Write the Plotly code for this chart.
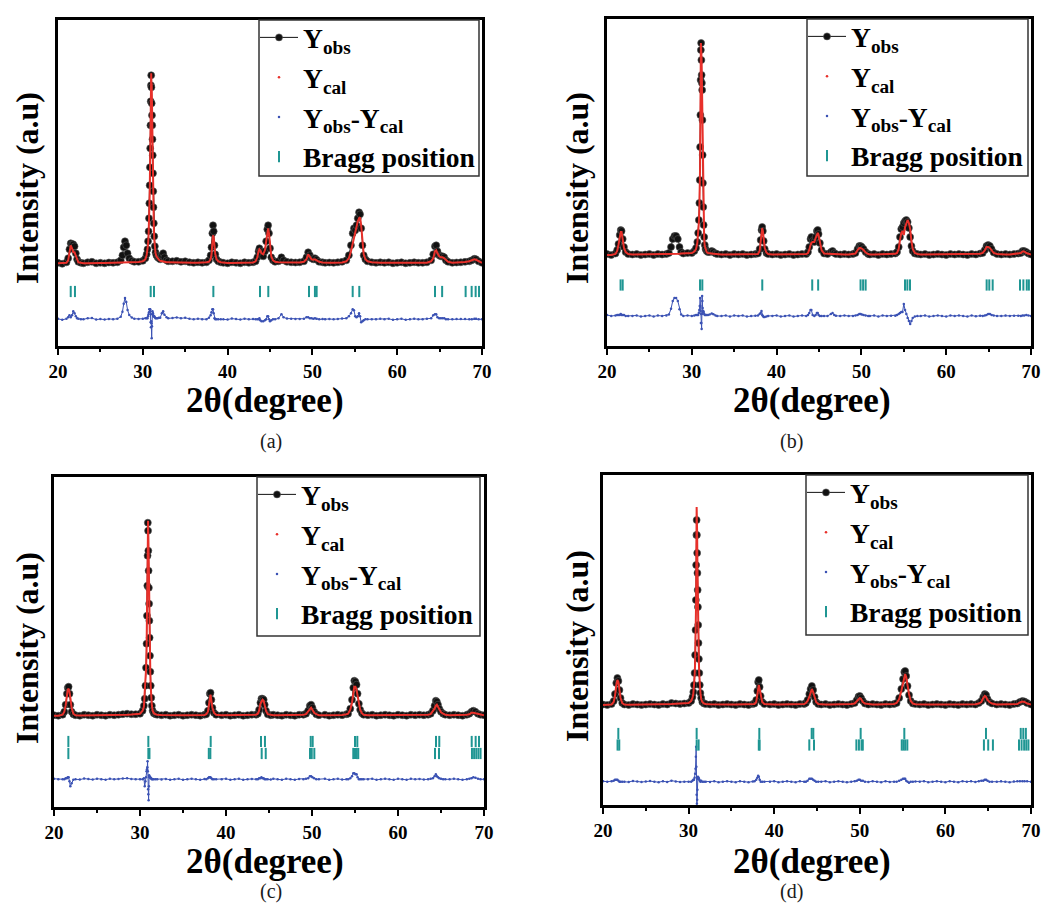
import plotly.graph_objects as go

# ---------------------------------------------------------------------------
# Rietveld refinement patterns, 2theta in degrees, intensity in arbitrary units
# ---------------------------------------------------------------------------

# ---- sample (a) ----
tt_a = [20.0, 20.5, 21.0, 21.2, 21.35, 21.5, 21.65, 21.8, 21.95, 22.1, 22.25, 22.4, 22.7,
        23.0, 23.5, 24.0, 24.5, 25.0, 25.5, 26.0, 26.5, 27.0, 27.4, 27.6, 27.75, 27.9, 28.05,
        28.2, 28.4, 28.7, 29.0, 29.5, 30.0, 30.3, 30.45, 30.55, 30.62, 30.68, 30.73, 30.77,
        30.81, 30.84, 30.87, 30.9, 30.93, 30.96, 30.99, 31.02, 31.05, 31.08, 31.11, 31.14,
        31.17, 31.2, 31.23, 31.26, 31.3, 31.35, 31.42, 31.5, 31.6, 31.75, 31.9, 32.05, 32.25,
        32.4, 32.55, 32.8, 33.0, 33.5, 34.0, 34.5, 35.0, 35.5, 36.0, 36.5, 37.0, 37.5, 37.8,
        38.0, 38.1, 38.2, 38.28, 38.36, 38.45, 38.55, 38.7, 38.9, 39.2, 39.5, 40.0, 40.5,
        41.0, 41.5, 42.0, 42.5, 43.0, 43.3, 43.5, 43.65, 43.75, 43.85, 44.0, 44.2, 44.4,
        44.55, 44.68, 44.78, 44.88, 45.0, 45.15, 45.35, 45.6, 46.0, 46.35, 46.6, 47.0, 47.5,
        48.0, 48.5, 49.0, 49.3, 49.5, 49.7, 49.9, 50.1, 50.3, 50.5, 50.8, 51.2, 51.5, 52.0,
        52.5, 53.0, 53.5, 54.0, 54.3, 54.55, 54.75, 54.9, 55.05, 55.2, 55.35, 55.5, 55.62,
        55.75, 55.9, 56.05, 56.25, 56.5, 57.0, 57.5, 58.0, 58.5, 59.0, 59.5, 60.0, 60.5,
        61.0, 61.5, 62.0, 62.5, 63.0, 63.5, 64.0, 64.25, 64.45, 64.6, 64.75, 64.95, 65.15,
        65.35, 65.55, 65.75, 66.0, 66.5, 67.0, 67.5, 68.0, 68.5, 68.8, 69.1, 69.3, 69.6, 70.0]
obs_a = [20.5, 19.5, 21, 25, 34, 40, 39, 39, 37, 30, 24, 21.5, 20.5,
         20, 21, 21.5, 20, 20.5, 20, 20.8, 20.5, 21, 23, 28, 36, 42, 38,
         30, 25, 22.5, 21.5, 21.5, 22.5, 25, 29, 34, 42, 52, 65, 80,
         98, 116, 135, 158, 182, 198, 208, 196, 180, 168, 158, 144,
         128, 110, 92, 76, 60, 47, 37, 31, 28, 26, 25, 24, 28,
         30, 26, 23, 22, 22, 22.5, 21.5, 22, 21, 20.5, 21, 20.5, 21, 23,
         28, 36, 50, 58, 52, 38, 29, 24, 22, 21, 20.5, 20, 21,
         20.5, 20, 21, 20.5, 21, 22, 26, 32, 35, 32, 28, 27, 32,
         42, 54, 58, 50, 35, 26, 23, 21.5, 22, 26, 23, 21.5, 21,
         20.8, 21, 22, 26, 31, 28, 25, 24, 25, 23.5, 21.5, 21, 20.5, 20.8,
         20.5, 21, 21.5, 23, 28, 38, 50, 55, 53, 58, 65, 71, 69,
         55, 38, 28, 24, 22, 21, 20.5, 21, 20.5, 21, 20, 20.5, 21,
         20, 20.5, 21, 20.5, 20.5, 21, 23, 29, 37, 38, 32, 28, 27,
         27, 26, 23, 21.5, 20.5, 20.8, 21, 21.5, 22, 23, 24.5, 24, 22, 20.5]
cal_a = [20, 20, 20.5, 23, 30, 38, 35, 31, 31, 27, 23, 21, 20.5,
         20, 20, 20.3, 20.3, 20.3, 20.3, 20.4, 20.4, 20.5, 20.5, 20.5, 20.5, 20.6, 20.6,
         20.6, 20.7, 20.8, 21, 21.2, 22, 24, 28, 33, 39, 47, 58, 70,
         88, 106, 125, 150, 185, 206, 210, 200, 199, 175, 153, 136,
         122, 104, 88, 73, 57, 44, 35, 30, 27, 25, 23.5, 22.5, 22,
         22, 21.5, 21, 21, 20.8, 20.6, 20.5, 20.5, 20.5, 20.5, 20.5, 20.5, 21, 21.5,
         24, 29, 40, 48, 46, 37, 29, 24, 22, 21, 20.5, 20.3, 20.3,
         20.3, 20.3, 20.4, 20.5, 20.8, 22, 26, 32, 34, 33, 30, 29, 33,
         42, 51, 55, 50, 37, 27, 23, 21.5, 21, 21, 21, 20.8, 20.5,
         20.5, 20.8, 21.5, 24, 29, 27, 24, 23.5, 24, 23, 21.5, 20.8, 20.5, 20.5,
         20.5, 20.6, 20.8, 22, 25, 32, 40, 46, 50, 56, 62, 65, 66,
         58, 40, 29, 24, 22, 21, 20.5, 20.5, 20.5, 20.5, 20.5, 20.5, 20.5,
         20.5, 20.5, 20.5, 20.5, 20.5, 20.5, 22, 25, 32, 33, 30, 27, 26,
         26, 25, 23, 21.5, 20.5, 20.5, 20.8, 21.2, 22, 23, 24, 23.5, 22, 20.5]
bragg_a = [21.5, 22.0, 30.93, 31.32, 38.32, 43.82, 44.8, 49.6, 50.3, 50.5, 54.75, 55.53,
           64.46, 65.3, 68.07, 68.78, 69.25, 69.65]

# ---- sample (b) ----
tt_b = [20.0, 20.5, 21.0, 21.2, 21.35, 21.5, 21.62, 21.72, 21.85, 22.0, 22.2, 22.5, 23.0,
        23.5, 24.0, 24.5, 25.0, 25.5, 26.0, 26.5, 27.0, 27.3, 27.55, 27.75, 27.95, 28.15,
        28.35, 28.55, 28.75, 29.0, 29.5, 30.0, 30.3, 30.5, 30.65, 30.75, 30.83, 30.89, 30.94,
        30.98, 31.01, 31.04, 31.07, 31.1, 31.13, 31.16, 31.19, 31.22, 31.25, 31.28, 31.31,
        31.35, 31.4, 31.46, 31.53, 31.62, 31.75, 31.9, 32.1, 32.35, 32.55, 32.8, 33.0, 33.5,
        34.0, 34.5, 35.0, 35.5, 36.0, 36.5, 37.0, 37.5, 37.8, 38.0, 38.12, 38.22, 38.3, 38.38,
        38.48, 38.6, 38.8, 39.0, 39.5, 40.0, 40.5, 41.0, 41.5, 42.0, 42.5, 43.0, 43.5, 43.7,
        43.85, 44.0, 44.1, 44.25, 44.45, 44.6, 44.75, 44.85, 44.95, 45.1, 45.3, 45.6, 46.0,
        46.4, 46.6, 46.8, 47.0, 47.5, 48.0, 48.5, 49.0, 49.3, 49.55, 49.75, 49.9, 50.05, 50.25,
        50.5, 50.8, 51.0, 51.5, 52.0, 52.5, 53.0, 53.5, 54.0, 54.2, 54.4, 54.55, 54.7, 54.85,
        55.0, 55.15, 55.3, 55.45, 55.6, 55.75, 55.9, 56.05, 56.3, 56.6, 57.0, 57.5, 58.0,
        58.5, 59.0, 59.5, 60.0, 60.5, 61.0, 61.5, 62.0, 62.5, 63.0, 63.5, 64.0, 64.3, 64.55,
        64.75, 64.95, 65.15, 65.35, 65.6, 66.0, 66.5, 67.0, 67.5, 68.0, 68.5, 68.8, 69.0,
        69.2, 69.45, 69.7, 70.0]
obs_b = [21, 20, 21.5, 25, 31, 40, 45, 44, 36, 28, 23, 21, 20.5,
         21, 20, 20.5, 21, 20, 21, 20.5, 21, 22, 28, 36, 39, 39,
         36, 28, 23, 21.5, 22, 22, 24, 27, 33, 42, 55, 72, 95,
         128, 160, 195, 225, 232, 215, 200, 192, 185, 155, 120, 92,
         68, 50, 38, 30, 26, 24, 23, 23, 24, 23, 21.5, 21, 20.5,
         21, 20, 21, 20.5, 21, 20, 20.5, 21, 21.5, 26, 35, 45, 48, 44,
         34, 26, 22, 21, 20.5, 21, 20, 20.5, 21, 20, 20.5, 21, 21, 23,
         28, 36, 38, 34, 33, 38, 44, 45, 41, 32, 25, 21.5, 21,
         23, 24, 22, 21, 20.5, 21, 20.5, 21, 22, 26, 29, 29, 28, 26,
         23, 21, 20.5, 21, 20, 21, 20.5, 21, 21.5, 23, 28, 38, 46, 48,
         52, 54, 55, 53, 47, 38, 29, 24, 21.5, 21, 20.5, 21, 20,
         20.5, 21, 20.5, 20, 21, 20.5, 21, 20.5, 20, 21, 20.5, 21.5, 22, 25,
         29, 30, 29, 26, 22.5, 21, 20.5, 21, 20.5, 21, 21.5, 22, 24,
         24, 23, 21.5, 20.5]
cal_b = [20, 20, 21, 24, 30, 39, 43, 43, 35, 27, 23, 21, 20.5,
         20.5, 20.5, 20.5, 20.5, 20.5, 20.5, 20.5, 20.5, 20.5, 20.8, 21, 21, 21,
         21, 21.2, 21.5, 21.5, 21.5, 22, 23.5, 26, 32, 41, 52, 66, 85,
         110, 150, 190, 232, 230, 222, 213, 190, 165, 140, 112, 88,
         63, 46, 36, 29, 25, 23, 22, 21.5, 21.5, 21.3, 21, 21, 20.5,
         20.5, 20.5, 20.5, 20.5, 20.5, 20.5, 20.5, 20.8, 21, 24, 32, 40, 47, 44,
         35, 27, 22.5, 21, 20.5, 20.5, 20.5, 20.5, 20.5, 20.5, 20.5, 20.5, 21, 22,
         25, 30, 32, 33, 33, 37, 41, 42, 40, 32, 25, 21.5, 21,
         21, 21, 21, 20.8, 20.5, 20.5, 20.5, 21, 21.5, 25, 27, 27, 26.5, 25,
         22.5, 21, 20.5, 20.5, 20.5, 20.5, 20.5, 20.8, 21.2, 22, 26, 35, 42, 44,
         40, 48, 53, 55, 52, 46, 34, 26, 22, 21, 20.5, 20.5, 20.5,
         20.5, 20.5, 20.5, 20.5, 20.5, 20.5, 20.5, 20.5, 20.5, 20.5, 20.8, 21.2, 22, 24.5,
         28, 28, 27, 25, 22, 21, 20.5, 20.5, 20.5, 20.8, 21.2, 22, 23.5,
         23.5, 22, 21, 20.5]
bragg_b = [21.6, 21.85, 30.97, 31.24, 38.31, 44.2, 44.9, 49.9, 50.2, 50.5, 55.14, 55.42,
           55.73, 64.77, 65.08, 65.48, 68.7, 69.1, 69.5, 69.75]

# ---- sample (c) ----
tt_c = [20.0, 20.5, 21.0, 21.2, 21.35, 21.5, 21.6, 21.7, 21.8, 21.9, 22.05, 22.25, 22.5,
        23.0, 23.5, 24.0, 24.5, 25.0, 25.5, 26.0, 26.5, 27.0, 27.5, 28.0, 28.5, 29.0, 29.5,
        30.0, 30.3, 30.45, 30.55, 30.63, 30.7, 30.76, 30.81, 30.85, 30.88, 30.91, 30.94,
        30.97, 31.0, 31.03, 31.06, 31.09, 31.12, 31.16, 31.2, 31.25, 31.31, 31.38, 31.47,
        31.6, 31.8, 32.0, 32.5, 33.0, 33.5, 34.0, 34.5, 35.0, 35.5, 36.0, 36.5, 37.0, 37.5,
        37.7, 37.9, 38.02, 38.12, 38.2, 38.3, 38.42, 38.6, 38.85, 39.5, 40.0, 40.5, 41.0,
        41.5, 42.0, 42.5, 43.0, 43.5, 43.7, 43.85, 44.0, 44.12, 44.25, 44.38, 44.5, 44.65,
        44.85, 45.2, 45.5, 46.0, 46.5, 47.0, 47.5, 48.0, 48.5, 49.0, 49.3, 49.55, 49.75,
        49.9, 50.05, 50.25, 50.5, 50.8, 51.5, 52.0, 52.5, 53.0, 53.5, 54.0, 54.2, 54.45,
        54.65, 54.8, 54.92, 55.05, 55.18, 55.3, 55.45, 55.6, 55.8, 56.0, 56.5, 57.0, 57.5,
        58.0, 58.5, 59.0, 59.5, 60.0, 60.5, 61.0, 61.5, 62.0, 62.5, 63.0, 63.5, 63.8, 64.05,
        64.25, 64.4, 64.52, 64.65, 64.8, 65.0, 65.25, 65.5, 66.0, 66.5, 67.0, 67.5, 68.0,
        68.3, 68.55, 68.76, 69.0, 69.3, 69.6, 70.0]
obs_c = [20.5, 20, 21, 24, 31, 42, 48, 49, 42, 31, 24, 21.5, 20.5,
         20, 21, 20.5, 20, 21, 20.5, 20, 21, 20.5, 21, 21.5, 22, 21.5, 21.5,
         22, 25, 30, 37, 50, 68, 92, 120, 150, 180, 213, 205,
         185, 165, 148, 132, 115, 98, 80, 64, 50, 38, 30, 25,
         22.5, 21.5, 21, 20.5, 21, 20, 20.5, 21, 20, 20.5, 21, 20.5, 20, 21,
         21.5, 25, 33, 42, 43, 36, 28, 23, 21, 20.5, 21, 20, 20.5,
         21, 20, 20.5, 21, 21, 22, 26, 33, 37, 37, 36, 31, 25,
         21.5, 20.5, 21, 20.5, 20, 21, 20.5, 20, 21, 21, 22, 25, 30,
         31, 28, 24, 21.5, 20.5, 21, 20, 20.5, 21, 20.5, 21.5, 22, 27,
         36, 48, 55, 54, 51, 42, 32, 26, 22.5, 21, 20.5, 21, 20,
         20.5, 21, 20.5, 20, 21, 20.5, 20, 21, 20.5, 21, 20.5, 21, 22, 25,
         30, 35, 34, 31, 27, 24, 22, 21, 20.5, 21, 20.5, 20, 21,
         22, 24, 25, 24, 22, 21, 20.5]
cal_c = [20, 20, 21, 24, 30, 41, 46, 47, 44, 38, 28, 22, 20.5,
         20.3, 20.3, 20.3, 20.3, 20.4, 20.4, 20.4, 20.5, 20.5, 20.6, 20.8, 21, 21.2, 21.5,
         22, 25, 29, 44, 52, 66, 84, 110, 138, 162, 205, 215,
         200, 186, 155, 128, 112, 96, 78, 62, 49, 37, 30, 25,
         22.5, 21.5, 21, 20.8, 20.6, 20.5, 20.5, 20.5, 20.5, 20.5, 20.5, 20.5, 20.5, 20.8,
         21.5, 24, 31, 40, 41, 35, 28, 23, 21, 20.5, 20.5, 20.5, 20.5,
         20.5, 20.5, 20.5, 20.6, 21, 22, 25, 32, 35, 36, 35, 31, 25,
         21.5, 20.8, 20.5, 20.5, 20.5, 20.5, 20.5, 20.5, 20.6, 21, 21.5, 24, 27,
         28, 26, 23, 21.5, 20.5, 20.5, 20.5, 20.5, 20.5, 20.8, 21.5, 22, 26,
         33, 42, 49, 49, 46, 40, 32, 26, 22.5, 21, 20.5, 20.5, 20.5,
         20.5, 20.5, 20.5, 20.5, 20.5, 20.5, 20.5, 20.5, 20.5, 20.6, 20.7, 21, 21.5, 24,
         27, 30, 31, 29, 26, 23.5, 22, 21, 20.5, 20.5, 20.5, 20.5, 21,
         21.5, 23, 23, 22.5, 21.5, 21, 20.5]
bragg_c1 = [21.67, 30.97, 38.22, 44.07, 44.53, 49.85, 50.08, 55.0, 55.27, 64.42, 64.8,
            68.57, 69.03, 69.42]
bragg_c2 = [21.67, 30.97, 31.1, 38.0, 38.18, 44.15, 44.62, 49.77, 49.97, 50.27, 54.8, 55.0,
            55.2, 55.38, 64.3, 64.77, 68.6, 68.85, 69.1, 69.35, 69.6]

# ---- sample (d) ----
tt_d = [20.0, 20.5, 21.0, 21.25, 21.4, 21.55, 21.68, 21.8, 21.92, 22.05, 22.25, 22.5,
        23.0, 23.5, 24.0, 24.5, 25.0, 25.5, 26.0, 26.5, 27.0, 27.5, 28.0, 28.5, 29.0, 29.5,
        30.0, 30.3, 30.45, 30.55, 30.63, 30.7, 30.76, 30.81, 30.85, 30.88, 30.91, 30.94,
        30.97, 31.0, 31.03, 31.06, 31.09, 31.12, 31.16, 31.2, 31.25, 31.31, 31.38, 31.47,
        31.6, 31.8, 32.0, 32.5, 33.0, 33.5, 34.0, 34.5, 35.0, 35.5, 36.0, 36.5, 37.0, 37.5,
        37.7, 37.9, 38.03, 38.12, 38.2, 38.3, 38.42, 38.6, 38.85, 39.5, 40.0, 40.5, 41.0,
        41.5, 42.0, 42.5, 43.0, 43.5, 43.7, 43.9, 44.1, 44.25, 44.4, 44.55, 44.72, 44.9,
        45.15, 45.5, 46.0, 46.5, 47.0, 47.5, 48.0, 48.5, 49.0, 49.4, 49.65, 49.85, 50.0,
        50.15, 50.35, 50.6, 51.0, 51.5, 52.0, 52.5, 53.0, 53.5, 54.0, 54.3, 54.6, 54.85,
        55.05, 55.2, 55.3, 55.42, 55.58, 55.75, 55.95, 56.2, 56.5, 57.0, 57.5, 58.0, 58.5,
        59.0, 59.5, 60.0, 60.5, 61.0, 61.5, 62.0, 62.5, 63.0, 63.5, 63.9, 64.2, 64.42, 64.6,
        64.75, 64.92, 65.15, 65.45, 66.0, 66.5, 67.0, 67.5, 68.0, 68.4, 68.7, 69.0, 69.25,
        69.55, 70.0]
obs_d = [20.5, 20, 21, 24, 31, 42, 47, 44, 35, 27, 22, 20.5,
         20, 21, 20.5, 20, 20.5, 21, 20.5, 20, 21, 20.5, 22, 21.5, 21, 21.5,
         22, 24, 28, 33, 40, 52, 70, 95, 125, 160, 190, 205,
         190, 172, 152, 135, 118, 100, 82, 66, 52, 40, 32, 27,
         23, 21.5, 21, 20.5, 21, 20, 20.5, 21, 20.5, 20, 21, 20.5, 20, 21,
         21.5, 25, 34, 43, 45, 38, 29, 23, 21, 20.5, 21, 20, 20.5,
         21, 20.5, 20, 21, 21, 22, 25, 31, 36, 39, 35, 28, 23,
         21, 20.5, 21, 20, 20.5, 21, 20.5, 20, 21, 22, 25, 28.5, 29,
         27, 24, 21.5, 20.5, 21, 20.5, 20, 21, 20.5, 21, 22, 27, 36,
         46, 53, 54, 49, 39, 30, 24, 21.5, 21, 20.5, 21, 20, 20.5,
         21, 20.5, 20, 21, 20.5, 20, 21, 20.5, 21, 20.5, 22, 24, 28, 31,
         30, 26, 23, 21.5, 20.5, 21, 20.5, 20, 21, 21.5, 23, 24, 23.5,
         22, 20.5]
cal_d = [20, 20, 20.5, 23, 29, 40, 45, 43, 35, 27, 22, 20.5,
         20.3, 20.3, 20.3, 20.3, 20.4, 20.4, 20.5, 20.5, 20.6, 20.7, 21, 21.2, 21.3, 21.5,
         22, 24, 27, 31, 38, 48, 62, 82, 100, 125, 175, 218,
         212, 190, 160, 132, 113, 96, 78, 63, 50, 39, 32, 26,
         23, 21.5, 21, 20.8, 20.6, 20.5, 20.5, 20.5, 20.5, 20.5, 20.5, 20.5, 20.5, 20.8,
         21, 23, 30, 37, 40, 36, 29, 23, 21, 20.5, 20.5, 20.5, 20.5,
         20.5, 20.5, 20.5, 20.6, 21, 22, 24, 28, 33, 36, 33, 27, 23,
         21, 20.5, 20.5, 20.5, 20.5, 20.5, 20.5, 20.6, 21, 21.5, 24, 26.5, 27,
         26, 23, 21.5, 20.8, 20.5, 20.5, 20.5, 20.5, 20.7, 21, 22, 26, 34,
         43, 50, 51, 48, 39, 31, 24, 21.5, 20.8, 20.5, 20.5, 20.5, 20.5,
         20.5, 20.5, 20.5, 20.5, 20.5, 20.5, 20.5, 20.5, 20.6, 20.8, 21.5, 23, 27, 29,
         28, 25, 23, 21.5, 20.5, 20.5, 20.5, 20.5, 20.8, 21, 22.5, 23.5, 23,
         21.5, 20.5]
bragg_d1 = [21.79, 30.94, 38.26, 44.38, 44.57, 50.1, 55.2, 64.74, 68.8, 69.1, 69.4]
bragg_d2 = [21.7, 21.9, 30.94, 31.17, 38.2, 38.3, 44.1, 44.65, 49.6, 49.9, 50.2, 50.35,
            54.9, 55.1, 55.3, 55.55, 64.5, 65.0, 65.55, 68.6, 68.9, 69.2, 69.45, 69.7]

x_ticks = [20, 30, 40, 50, 60, 70]
captions = ["(a)", "(b)", "(c)", "(d)"]
x_title = "2θ(degree)"
y_title = "Intensity (a.u)"

# ---------------------------------------------------------------------------
# page layout (pixel geometry of the 2 x 2 panel grid) and styling
# ---------------------------------------------------------------------------
W, H = 1041, 918
SERIF = "Liberation Serif"
C_OBS, C_CAL, C_DIFF, C_BRAGG = "#111111", "#e8302a", "#3b52b4", "#1f9693"

panels = [
    dict(tt=tt_a, obs=obs_a, cal=cal_a, bragg=[bragg_a], frame=(58, 20, 482, 346),
         yr=(-62.7, 263.3), diff_at=-36, bragg_at=[-8.2], cap=(258, 441),
         xt=(265, 400), yt=(27, 188), box=(259, 479, 176)),
    dict(tt=tt_b, obs=obs_b, cal=cal_b, bragg=[bragg_b], frame=(607, 19, 1031, 346),
         yr=(-71, 256), diff_at=-41, bragg_at=[-10], cap=(805, 441),
         xt=(812, 400), yt=(577, 188), box=(807, 1028, 176)),
    dict(tt=tt_c, obs=obs_c, cal=cal_c, bragg=[bragg_c1, bragg_c2], frame=(54, 477, 484, 807),
         yr=(-71.3, 258.7), diff_at=-43.6, bragg_at=[-5.8, -17.8], cap=(258, 905),
         xt=(265, 861), yt=(27, 648), box=(257, 480, 636)),
    dict(tt=tt_d, obs=obs_d, cal=cal_d, bragg=[bragg_d1, bragg_d2], frame=(603, 475, 1031, 805),
         yr=(-80, 250), diff_at=-56.7, bragg_at=[-8.5, -20], cap=(805, 905),
         xt=(812, 861), yt=(577, 646), box=(806, 1028, 635)),
]

fig = go.Figure()
layout = dict(width=W, height=H, margin=dict(l=0, r=0, t=0, b=0, autoexpand=False),
              paper_bgcolor="white", plot_bgcolor="white", showlegend=True,
              annotations=[], shapes=[])


def px(x, y):
    """pixel position on the page -> paper coordinates"""
    return x / W, 1 - y / H


for i, p in enumerate(panels, start=1):
    n = "" if i == 1 else str(i)
    xa, ya, lg = "x" + n, "y" + n, "legend" + n
    for name in ("tt", "obs", "cal"):
        if len(p[name]) != len(p["tt"]):
            raise ValueError(f"panel {i}: {name} length mismatch")

    diff = [o - c + p["diff_at"] for o, c in zip(p["obs"], p["cal"])]
    common = dict(xaxis=xa, yaxis=ya, legend=lg)

    # difference curve
    fig.add_trace(go.Scatter(x=p["tt"], y=diff, mode="lines+markers",
                             line=dict(color=C_DIFF, width=1),
                             marker=dict(color=C_DIFF, size=2.5),
                             showlegend=False, **common))
    # Bragg reflections (one row per phase)
    for k, (pos, yrow) in enumerate(zip(p["bragg"], p["bragg_at"])):
        fig.add_trace(go.Scatter(x=pos, y=[yrow] * len(pos), mode="markers",
                                 marker=dict(symbol="line-ns", size=8, color=C_BRAGG,
                                             line=dict(color=C_BRAGG, width=2)),
                                 name="Bragg position", showlegend=(k == 0),
                                 legendgroup=f"{i}br", legendrank=4, **common))
    # observed
    fig.add_trace(go.Scatter(x=p["tt"], y=p["obs"], mode="lines+markers",
                             line=dict(color=C_OBS, width=1),
                             marker=dict(color=C_OBS, size=7, line=dict(color="#555", width=0.6)),
                             name="Y<sub>obs</sub>", legendgroup=f"{i}obs", legendrank=1,
                             **common))
    # calculated
    fig.add_trace(go.Scatter(x=p["tt"], y=p["cal"], mode="lines",
                             line=dict(color=C_CAL, width=2),
                             showlegend=False, legendgroup=f"{i}cal", **common))
    # legend keys drawn as single dots for the calculated and difference curves
    fig.add_trace(go.Scatter(x=[None], y=[None], mode="markers",
                             marker=dict(color=C_CAL, size=2.5),
                             name="Y<sub>cal</sub>", legendgroup=f"{i}cal", legendrank=2,
                             **common))
    fig.add_trace(go.Scatter(x=[None], y=[None], mode="markers",
                             marker=dict(color=C_DIFF, size=2.5),
                             name="Y<sub>obs</sub>-Y<sub>cal</sub>", legendgroup=f"{i}dif",
                             legendrank=3, **common))

    x0, y0, x1, y1 = p["frame"]
    layout["xaxis" + n] = dict(
        domain=[x0 / W, x1 / W], anchor=ya, range=[20, 70], automargin=False,
        tickvals=x_ticks, ticks="outside", ticklen=6, tickwidth=2, tickcolor="black",
        minor=dict(dtick=5, tick0=20, ticks="outside", ticklen=3, tickwidth=2, tickcolor="black"),
        tickfont=dict(family=SERIF, size=19, color="black", weight="bold"),
        showline=True, linewidth=2.5, linecolor="black", mirror=True,
        showgrid=False, zeroline=False)
    layout["yaxis" + n] = dict(
        domain=[1 - y1 / H, 1 - y0 / H], anchor=xa, range=list(p["yr"]), automargin=False,
        showticklabels=False, ticks="", showline=True, linewidth=2.5, linecolor="black",
        mirror=True, showgrid=False, zeroline=False)

    # legend: framed box touching the top of the panel, entries on a 40 px pitch
    bl, br, bb = p["box"]
    layout["shapes"].append(dict(
        type="rect", xref="paper", yref="paper", layer="above",
        x0=bl / W, x1=br / W, y0=1 - bb / H, y1=1 - y0 / H,
        fillcolor="white", line=dict(color="#333", width=1.5)))
    lx, ly = px(bl - 4, y0 - 7)
    layout[lg] = dict(
        x=lx, y=ly, xanchor="left", yanchor="top",
        bgcolor="rgba(0,0,0,0)", borderwidth=0, itemwidth=38,
        font=dict(family=SERIF, size=27.5, color="black", weight="bold"),
        tracegroupgap=1)

    # axis titles and panel caption
    tx, ty = px(*p["xt"])
    layout["annotations"].append(dict(
        text=x_title, x=tx, y=ty, xref="paper", yref="paper", showarrow=False,
        xanchor="center", yanchor="middle", borderpad=0,
        font=dict(family=SERIF, size=35, color="black", weight="bold")))
    vx, vy = px(*p["yt"])
    layout["annotations"].append(dict(
        text=y_title, x=vx, y=vy, xref="paper", yref="paper", showarrow=False,
        textangle=-90, xanchor="center", yanchor="middle",
        font=dict(family=SERIF, size=32, color="black", weight="bold")))
    cx, cy = px(*p["cap"])
    layout["annotations"].append(dict(
        text=captions[i - 1], x=cx, y=cy, xref="paper", yref="paper",
        showarrow=False, font=dict(family=SERIF, size=20, color="#1a1a1a")))

fig.update_layout(**layout)
fig.write_html("out.html")
